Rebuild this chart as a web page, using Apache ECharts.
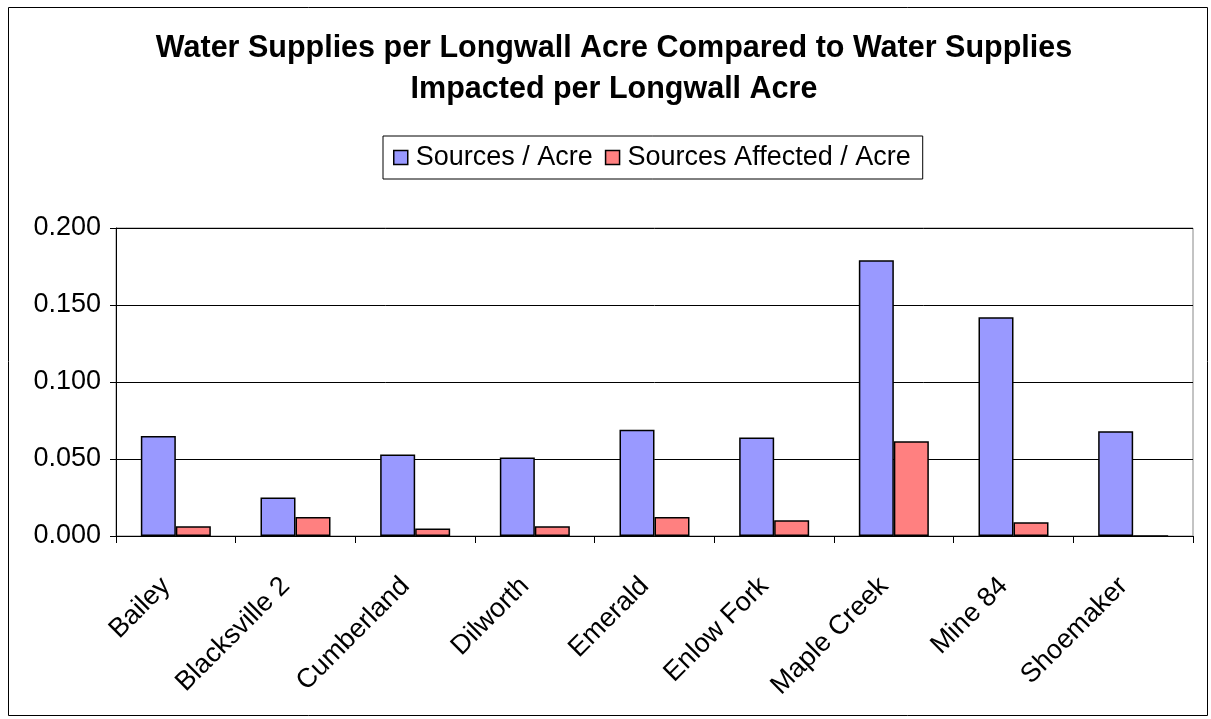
<!DOCTYPE html>
<html>
<head>
<meta charset="utf-8">
<script src="https://cdn.jsdelivr.net/npm/echarts@6/dist/echarts.min.js"></script>
<style>
html,body{margin:0;padding:0;background:#fff;}
#chart{width:1211px;height:719px;}
</style>
</head>
<body>
<div id="chart"></div>
<script>
const categories = ["Bailey","Blacksville 2","Cumberland","Dilworth","Emerald","Enlow Fork","Maple Creek","Mine 84","Shoemaker"];
const sourcesPerAcre = [0.065, 0.025, 0.053, 0.051, 0.069, 0.064, 0.179, 0.142, 0.068];
const affectedPerAcre = [0.0063, 0.0124, 0.0049, 0.0063, 0.0124, 0.0102, 0.0615, 0.0089, 0];
const yTicks = [0, 0.05, 0.1, 0.15, 0.2];

const chart = echarts.init(document.getElementById('chart'));
const font = 'Liberation Sans, Arial, sans-serif';
chart.setOption({
  animation: false,
  textStyle: {fontFamily: font},
  graphic: [{
    type: 'rect', shape: {x: 8.5, y: 7.5, width: 1199, height: 708},
    style: {fill: 'none', stroke: '#000', lineWidth: 1}, silent: true, z: -10
  }],
  title: {
    text: 'Water Supplies per Longwall Acre Compared to Water Supplies\nImpacted per Longwall Acre',
    left: 609, top: 23, textAlign: 'center',
    textStyle: {fontFamily: font, fontSize: 30.5, fontWeight: 'bold', color: '#000', lineHeight: 41, align: 'center'}
  },
  legend: {
    top: 136, left: 383,
    padding: [8, 12, 8, 10],
    borderColor: '#000', borderWidth: 1,
    itemWidth: 14, itemHeight: 14, itemGap: 12,
    icon: 'rect',
    textStyle: {fontFamily: font, fontSize: 27, color: '#000', padding: [0, 0, 0, 3]},
    itemStyle: {borderColor: '#000', borderWidth: 1.5},
    data: ['Sources / Acre', 'Sources Affected / Acre']
  },
  grid: {left: 116, right: 18, top: 228, bottom: 183, show: true, borderColor: '#888', borderWidth: 1},
  xAxis: {
    type: 'category', data: categories,
    axisLine: {lineStyle: {color: '#000', width: 1}},
    axisTick: {show: true, interval: 0, length: 7, lineStyle: {color: '#000'}},
    axisLabel: {rotate: 45, interval: 0, fontSize: 27, color: '#000', fontFamily: font, margin: 36, padding: [0, 14, 0, 0]}
  },
  yAxis: {
    type: 'value', min: 0, max: 0.2, interval: 0.05,
    axisLine: {show: true, lineStyle: {color: '#000'}},
    axisTick: {show: true, length: 6, lineStyle: {color: '#000'}},
    splitLine: {lineStyle: {color: '#000', width: 1}},
    axisLabel: {formatter: v => v.toFixed(3), fontSize: 27, color: '#000', fontFamily: font, margin: 15}
  },
  series: [
    {name: 'Sources / Acre', type: 'bar', data: sourcesPerAcre, barWidth: 35, barGap: '0%',
     itemStyle: {color: '#9999ff', borderColor: '#000', borderWidth: 1.5}},
    {name: 'Sources Affected / Acre', type: 'bar', data: affectedPerAcre, barWidth: 35,
     itemStyle: {color: '#ff8080', borderColor: '#000', borderWidth: 1.5}}
  ]
});
</script>
</body>
</html>
